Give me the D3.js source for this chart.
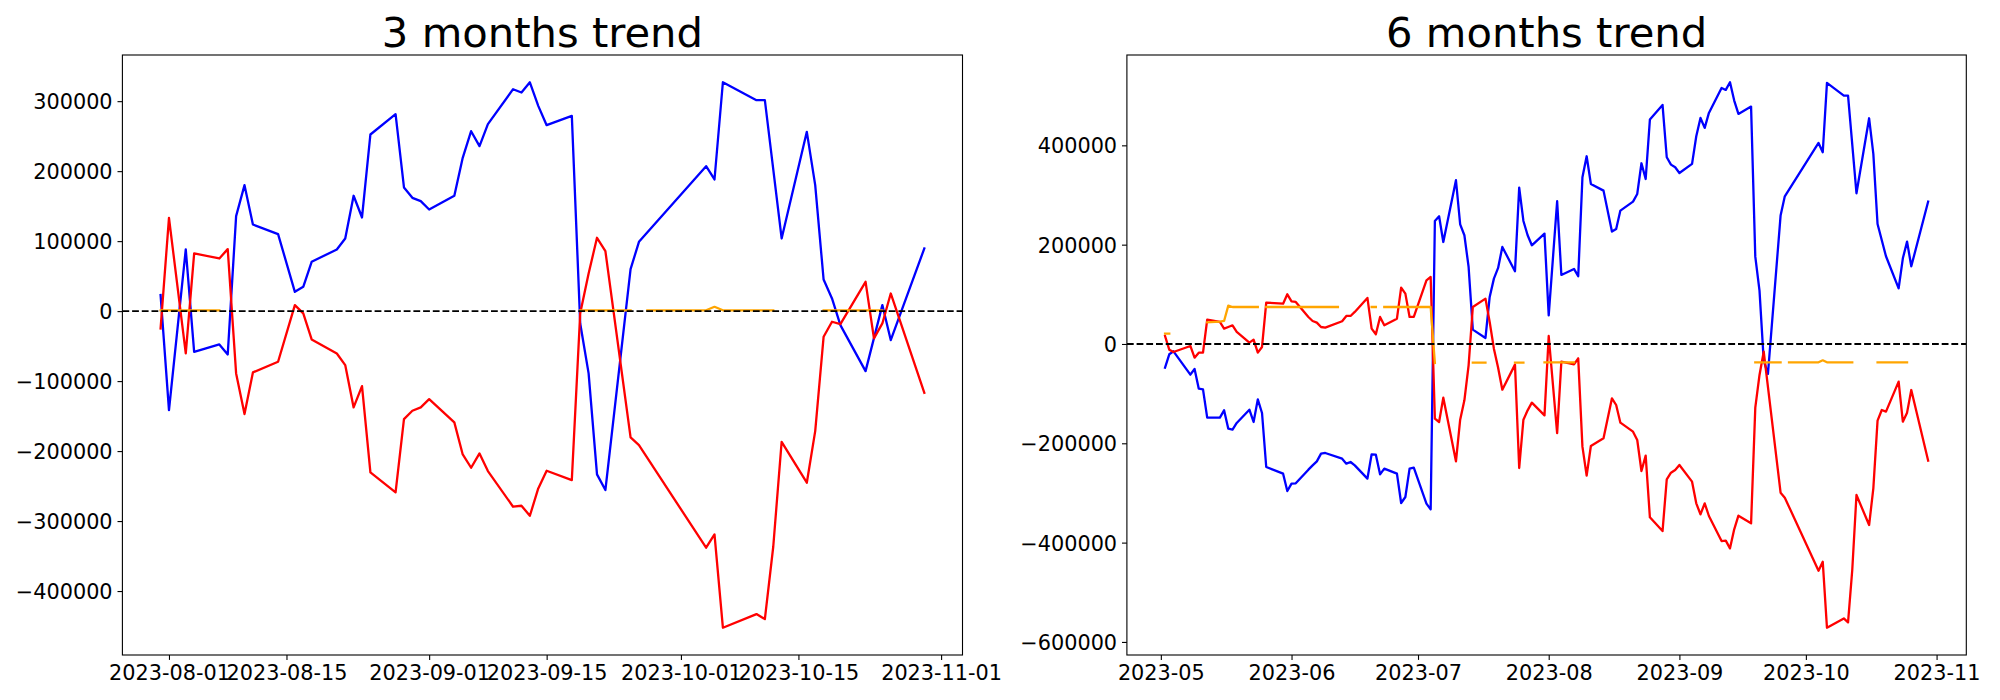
<!DOCTYPE html>
<html><head><meta charset="utf-8">
<script src="https://cdn.jsdelivr.net/npm/d3@7"></script>
<style>html,body{margin:0;background:#fff}svg{display:block;font-family:"DejaVu Sans",sans-serif}</style>
</head><body><svg id="c" width="2000" height="700"></svg>
<script>
// ---------- 3 months panel ----------
const titleL = "3 months trend";
const datesL = ["2023-07-31","2023-08-01","2023-08-03","2023-08-04","2023-08-07","2023-08-08","2023-08-09","2023-08-10","2023-08-11","2023-08-14",
"2023-08-16","2023-08-17","2023-08-18","2023-08-21","2023-08-22","2023-08-23","2023-08-24","2023-08-25","2023-08-28","2023-08-29",
"2023-08-30","2023-08-31","2023-09-01","2023-09-04","2023-09-05","2023-09-06","2023-09-07","2023-09-08","2023-09-11","2023-09-12",
"2023-09-13","2023-09-14","2023-09-15","2023-09-18","2023-09-19","2023-09-20","2023-09-21","2023-09-22","2023-09-25","2023-09-26",
"2023-09-27","2023-09-28","2023-09-29","2023-10-02","2023-10-03","2023-10-04","2023-10-05","2023-10-06","2023-10-09","2023-10-10",
"2023-10-11","2023-10-12","2023-10-13","2023-10-16","2023-10-17","2023-10-18","2023-10-19","2023-10-20","2023-10-23","2023-10-24",
"2023-10-25","2023-10-26","2023-10-30"];
const blueL = [22900,-141400,88100,-58100,-47600,-61900,135700,180000,123800,110000,
27600,34800,70500,88100,103800,164800,133800,252400,281400,176700,
161900,157100,145200,164800,219000,257100,235700,267100,317100,312400,
327000,293300,265700,279000,-17600,-89000,-233300,-255700,60000,99000,
null,null,null,null,null,207100,188100,327000,null,301400,
301400,null,103800,256200,180000,45200,18100,-20000,-85700,null,
8600,-41400,89500];
const redL = [-24800,133300,-60500,82400,75200,88600,-89000,-147100,-87600,-72400,
8600,-3300,-40500,-60500,-77100,-137600,-107100,-230500,-259000,-154300,
-142400,-137600,-125700,-159000,-204800,-223800,-203300,-228600,-279500,-278100,
-292400,-253300,-228100,-241400,-3000,53800,104800,85700,-180500,-191400,
null,null,null,null,null,-338100,-319000,-452400,null,-432900,
-440000,-336700,-186700,-245200,-171400,-36700,-15200,-18600,41900,-39000,
-17600,25200,-116700];
const orangeL = [1200,1200,1200,1200,1200,null,null,null,null,null,
null,null,null,null,null,null,null,null,null,null,
null,null,null,null,null,null,null,null,null,null,
null,null,null,null,1200,1200,1200,1200,1200,null,
1200,1200,1200,1200,1200,1200,6200,1200,1200,1200,
1200,1200,null,null,null,1200,1200,1200,1200,1200,
1200,null,null];
const xTicksL = ["2023-08-01","2023-08-15","2023-09-01","2023-09-15","2023-10-01","2023-10-15","2023-11-01"];
const yTicksL = [-400000,-300000,-200000,-100000,0,100000,200000,300000];

// ---------- 6 months panel ----------
const titleR = "6 months trend";
const datesR = ["2023-05-02","2023-05-03","2023-05-04","2023-05-08","2023-05-09","2023-05-10","2023-05-11","2023-05-12","2023-05-15","2023-05-16",
"2023-05-17","2023-05-18","2023-05-19","2023-05-22","2023-05-23","2023-05-24","2023-05-25","2023-05-26","2023-05-30","2023-05-31",
"2023-06-01","2023-06-02","2023-06-05","2023-06-06","2023-06-07","2023-06-08","2023-06-09","2023-06-12","2023-06-13","2023-06-14",
"2023-06-15","2023-06-16","2023-06-19","2023-06-20","2023-06-21","2023-06-22","2023-06-23","2023-06-26","2023-06-27","2023-06-28",
"2023-06-29","2023-06-30","2023-07-03","2023-07-04","2023-07-05","2023-07-06","2023-07-07","2023-07-10","2023-07-11","2023-07-12",
"2023-07-13","2023-07-14","2023-07-17","2023-07-18","2023-07-19","2023-07-20","2023-07-21","2023-07-24","2023-07-25","2023-07-26",
"2023-07-27","2023-07-28","2023-07-31","2023-08-01","2023-08-03","2023-08-04","2023-08-07","2023-08-08","2023-08-09","2023-08-10",
"2023-08-11","2023-08-14","2023-08-16","2023-08-17","2023-08-18","2023-08-21","2023-08-22","2023-08-23","2023-08-24","2023-08-25",
"2023-08-28","2023-08-29","2023-08-30","2023-08-31","2023-09-01","2023-09-04","2023-09-05","2023-09-06","2023-09-07","2023-09-08",
"2023-09-11","2023-09-12","2023-09-13","2023-09-14","2023-09-15","2023-09-18","2023-09-19","2023-09-20","2023-09-21","2023-09-22",
"2023-09-25","2023-09-26","2023-09-27","2023-09-28","2023-09-29","2023-10-02","2023-10-03","2023-10-04","2023-10-05","2023-10-06",
"2023-10-09","2023-10-10","2023-10-11","2023-10-12","2023-10-13","2023-10-16","2023-10-17","2023-10-18","2023-10-19","2023-10-20",
"2023-10-23","2023-10-24","2023-10-25","2023-10-26","2023-10-30"];
const blueR = [-47700,-20800,-14800,-61800,-50400,-90000,-91300,-148400,-148400,-133600,
-170500,-172500,-159100,-132300,-157100,-111500,-139000,-247700,-261200,-296100,
-281300,-280600,-253100,-244400,-236300,-220900,-219500,null,-231000,-241000,
-237700,-244400,-271200,-222200,-222900,-262500,-251100,-261200,-320300,-308200,
-251100,-249100,-321600,-333000,247700,257200,205400,329700,241000,218900,
155100,28900,12100,94700,131600,153100,195400,146400,314900,247700,
218900,198700,222200,57500,287400,139000,151100,136300,335700,378000,
322300,308800,226300,231600,268600,286700,302100,363900,332300,451900,
481400,376000,361200,355800,344400,362600,418300,455200,435100,465300,
515600,511600,527000,490100,463300,478000,175900,107400,-33600,-60400,
258500,297400,null,null,null,null,null,404800,386000,525700,
null,500200,500200,null,303500,454500,382700,241700,null,176600,
112100,172500,206100,156400,286700];
const redR = [16100,-11400,-16100,-4000,-27500,-17500,-17500,49000,44300,30900,
34200,37600,24200,2700,8700,-17500,-6000,83300,81200,100000,
85900,84600,54400,46300,43000,34200,32900,null,45700,56400,
56400,64500,92700,30900,19500,54400,37600,51000,113500,101400,
54400,54400,128200,135000,-150400,-157100,-108100,-236300,-152400,-113500,
-43000,74500,91300,44300,-9400,-47700,-92000,-41600,-249800,-152400,
-133600,-118200,-143700,16100,-179600,-35600,-41000,-28900,-206800,-265200,
-205400,-190000,-109400,-122900,-158500,-176600,-193400,-255800,-224900,-349100,
-376700,-272600,-259200,-253800,-243700,-277300,-320900,-343100,-320900,-346400,
-396800,-396100,-411600,-373300,-345800,-361200,-128200,-62400,-15400,null,
-299400,-309500,null,null,null,null,null,-456600,-438400,-571400,
null,-552600,-560600,-455200,-304100,-364600,-290700,-154400,-132900,-136300,
-75900,-156400,-138300,-92700,-235000];
const orangeR = [20800,20800,null,null,null,null,null,43600,45000,46300,
77200,74500,74500,74500,74500,74500,null,74500,74500,74500,
74500,74500,74500,74500,74500,74500,74500,74500,null,null,
null,null,null,74500,74500,null,74500,74500,74500,74500,
74500,74500,74500,74500,-38300,null,null,null,null,null,
null,-37600,-37600,null,null,null,null,-37600,-37600,-37600,
null,null,-36900,-36900,-36900,-36900,-36900,null,null,null,
null,null,null,null,null,null,null,null,null,null,
null,null,null,null,null,null,null,null,null,null,
null,null,null,null,null,null,-36900,-36900,-36900,-36900,
-36900,null,-36900,-36900,-36900,-36900,-36900,-36900,-32900,-36900,
-36900,-36900,-36900,-36900,null,null,null,-36900,-36900,-36900,
-36900,-36900,-36900,null,null];
const xTicksR = ["2023-05-01","2023-06-01","2023-07-01","2023-08-01","2023-09-01","2023-10-01","2023-11-01"];
const yTicksR = [-600000,-400000,-200000,0,200000,400000];

// ---------- drawing ----------
const parse = d3.utcParse("%Y-%m-%d");
const svg = d3.select("#c");
const TOP = 55, BOTTOM = 655, LW = 2.3;
const panels = [
  {title: titleL, dates: datesL, blue: blueL, red: redL, orange: orangeL, xTicks: xTicksL, xFmt: "%Y-%m-%d", yTicks: yTicksL, x0: 122.4, x1: 962.5},
  {title: titleR, dates: datesR, blue: blueR, red: redR, orange: orangeR, xTicks: xTicksR, xFmt: "%Y-%m", yTicks: yTicksR, x0: 1126.9, x1: 1966.3}
];

panels.forEach((p, pi) => {
  const dts = p.dates.map(parse);
  const [d0, d1] = d3.extent(dts);
  const span = d1 - d0;
  const x = d3.scaleUtc().domain([new Date(+d0 - 0.05 * span), new Date(+d1 + 0.05 * span)]).range([p.x0, p.x1]);
  const allV = [...p.blue, ...p.red, ...p.orange].filter(v => v != null);
  const [v0, v1] = d3.extent(allV);
  const vs = v1 - v0;
  const y = d3.scaleLinear().domain([v0 - 0.05 * vs, v1 + 0.05 * vs]).range([BOTTOM, TOP]);

  const g = svg.append("g");
  const clipId = "clip" + pi;
  svg.append("clipPath").attr("id", clipId).append("rect")
    .attr("x", p.x0).attr("y", TOP).attr("width", p.x1 - p.x0).attr("height", BOTTOM - TOP);
  const plot = g.append("g").attr("clip-path", `url(#${clipId})`);

  const pts = arr => dts.map((d, i) => ({d, v: arr[i]}));
  const lineConn = d3.line().x(o => x(o.d)).y(o => y(o.v));
  const lineGap = d3.line().defined(o => o.v != null).x(o => x(o.d)).y(o => y(o.v));

  plot.append("path").datum(pts(p.blue).filter(o => o.v != null)).attr("d", lineConn)
    .attr("fill", "none").attr("stroke", "blue").attr("stroke-width", LW)
    .attr("stroke-linejoin", "round").attr("stroke-linecap", "square");
  plot.append("path").datum(pts(p.red).filter(o => o.v != null)).attr("d", lineConn)
    .attr("fill", "none").attr("stroke", "red").attr("stroke-width", LW)
    .attr("stroke-linejoin", "round").attr("stroke-linecap", "square");
  plot.append("path").datum(pts(p.orange)).attr("d", lineGap)
    .attr("fill", "none").attr("stroke", "orange").attr("stroke-width", LW)
    .attr("stroke-linejoin", "round").attr("stroke-linecap", "square");

  // zero line
  plot.append("line").attr("x1", p.x0).attr("x2", p.x1).attr("y1", y(0)).attr("y2", y(0))
    .attr("stroke", "black").attr("stroke-width", 1.9).attr("stroke-dasharray", "6.8,2.9");

  // frame
  g.append("rect").attr("x", p.x0).attr("y", TOP).attr("width", p.x1 - p.x0).attr("height", BOTTOM - TOP)
    .attr("fill", "none").attr("stroke", "black").attr("stroke-width", 1.1);

  // axes
  const fmt = d3.utcFormat(p.xFmt);
  const xa = g.append("g").attr("transform", `translate(0,${BOTTOM})`)
    .call(d3.axisBottom(x).tickValues(p.xTicks.map(parse)).tickFormat(fmt).tickSize(4.9).tickPadding(4.9).tickSizeOuter(0));
  const ya = g.append("g").attr("transform", `translate(${p.x0},0)`)
    .call(d3.axisLeft(y).tickValues(p.yTicks).tickFormat(d3.format("d")).tickSize(4.9).tickPadding(4.9).tickSizeOuter(0));
  [xa, ya].forEach(a => {
    a.select(".domain").remove();
    a.selectAll(".tick line").attr("stroke", "black").attr("stroke-width", 1.1);
    a.selectAll(".tick text").attr("fill", "black").style("font-size", "20.8px").style("font-family", "'DejaVu Sans', sans-serif");
  });
  ya.selectAll(".tick text").attr("dy", "0.36em");
  xa.selectAll(".tick text").attr("dy", "0.72em");

  g.append("text").attr("x", (p.x0 + p.x1) / 2).attr("y", 46.7).attr("text-anchor", "middle")
    .style("font-size", "41.7px").attr("fill", "black").text(p.title);
});
</script></body></html>
